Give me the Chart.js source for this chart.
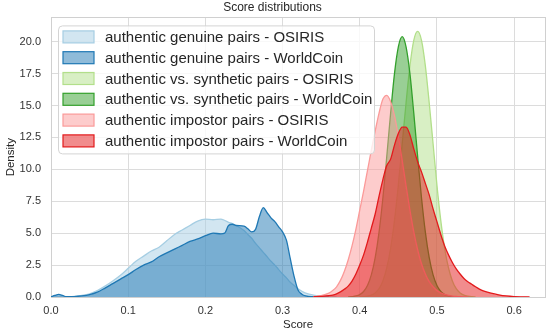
<!DOCTYPE html>
<html>
<head>
<meta charset="utf-8">
<script src="https://cdn.jsdelivr.net/npm/chart.js@4"></script>
<style>
  html, body { margin: 0; padding: 0; background: #fff; }
  #wrap { width: 550px; height: 333px; }
</style>
</head>
<body>
<div id="wrap"><canvas id="myChart" width="550" height="333"></canvas></div>
<script>
// scores for the two genuine curves
const scoresGenuine = [0.0, 0.005, 0.01, 0.015, 0.02, 0.03, 0.04, 0.05, 0.06, 0.07, 0.08, 0.09, 0.10, 0.11, 0.12, 0.13, 0.14, 0.15, 0.16, 0.17, 0.18, 0.19, 0.20, 0.21, 0.22, 0.225, 0.23, 0.235, 0.24, 0.25, 0.255, 0.26, 0.265, 0.27, 0.275, 0.28, 0.285, 0.29, 0.295, 0.30, 0.305, 0.31, 0.315, 0.32, 0.325, 0.33, 0.34, 0.35, 0.36, 0.37];
const genuineOsiris = [0.01, 0.01, 0.01, 0.01, 0.02, 0.05, 0.12, 0.25, 0.5, 0.85, 1.25, 1.7, 2.25, 2.8, 3.2, 3.6, 3.9, 4.4, 4.9, 5.25, 5.6, 5.95, 6.1, 6.05, 6.1, 6.0, 5.85, 5.75, 5.6, 5.2, 4.9, 4.6, 4.2, 3.85, 3.5, 3.15, 2.8, 2.5, 2.15, 1.8, 1.5, 1.15, 0.9, 0.65, 0.45, 0.3, 0.15, 0.08, 0.04, 0.01];
const genuineWorldcoin = [0.02, 0.12, 0.2, 0.12, 0.02, 0.03, 0.08, 0.18, 0.38, 0.7, 1.05, 1.4, 1.75, 2.15, 2.5, 2.75, 3.15, 3.45, 3.75, 4.05, 4.35, 4.55, 4.8, 5.0, 4.95, 5.0, 5.6, 5.7, 5.6, 5.55, 5.35, 5.1, 5.3, 6.3, 7.0, 6.6, 6.2, 5.9, 5.5, 5.1, 4.45, 3.0, 1.6, 0.55, 0.22, 0.08, 0.02, 0.01, 0, 0];

// scores for synthetic and impostor curves
const scoresOther = [0.34, 0.35, 0.36, 0.365, 0.37, 0.375, 0.38, 0.385, 0.39, 0.395, 0.40, 0.405, 0.41, 0.415, 0.42, 0.425, 0.43, 0.435, 0.44, 0.445, 0.45, 0.455, 0.46, 0.465, 0.47, 0.475, 0.48, 0.485, 0.49, 0.495, 0.50, 0.505, 0.51, 0.515, 0.52, 0.525, 0.53, 0.535, 0.54, 0.545, 0.55, 0.555, 0.56, 0.57, 0.58, 0.59, 0.60, 0.61, 0.62];
const synthOsiris = [0, 0, 0, 0, 0, 0, 0, 0, 0, 0, 0, 0.02, 0.06, 0.14, 0.31, 0.65, 1.26, 2.27, 3.81, 5.98, 8.76, 12.0, 15.2, 18.1, 20.1, 20.8, 20.1, 18.1, 15.2, 12.0, 8.76, 5.98, 3.81, 2.27, 1.26, 0.65, 0.31, 0.14, 0.06, 0.02, 0, 0, 0, 0, 0, 0, 0, 0, 0];
const synthWorldcoin = [0, 0, 0, 0, 0, 0, 0, 0, 0.03, 0.08, 0.19, 0.43, 0.9, 1.73, 3.08, 5.08, 7.77, 11.0, 14.4, 17.5, 19.6, 20.4, 19.6, 17.5, 14.4, 11.0, 7.77, 5.08, 3.08, 1.73, 0.9, 0.43, 0.19, 0.08, 0.03, 0, 0, 0, 0, 0, 0, 0, 0, 0, 0, 0, 0, 0, 0];
const impostorOsiris = [0.02, 0.1, 0.3, 0.5, 0.8, 1.3, 2.0, 2.9, 4.0, 5.3, 6.8, 8.3, 9.9, 11.5, 13.0, 14.4, 15.5, 15.8, 15.3, 14.2, 12.6, 10.7, 8.7, 6.8, 5.1, 3.7, 2.6, 1.8, 1.2, 0.8, 0.5, 0.32, 0.2, 0.12, 0.07, 0.04, 0.02, 0.01, 0, 0, 0, 0, 0, 0, 0, 0, 0, 0, 0];
const impostorWorldcoin = [0.02, 0.05, 0.1, 0.15, 0.25, 0.4, 0.6, 0.85, 1.25, 1.8, 2.5, 3.3, 4.3, 5.4, 6.5, 7.9, 9.2, 10.3, 10.8, 11.9, 12.8, 13.3, 13.3, 12.7, 11.6, 10.6, 9.8, 8.9, 8.0, 6.9, 5.9, 4.9, 4.0, 3.3, 2.7, 2.2, 1.8, 1.45, 1.2, 1.0, 0.8, 0.62, 0.48, 0.3, 0.17, 0.08, 0.03, 0.01, 0];

const seriesLabels = [
  "authentic genuine pairs - OSIRIS",
  "authentic genuine pairs - WorldCoin",
  "authentic vs. synthetic pairs - OSIRIS",
  "authentic vs. synthetic pairs - WorldCoin",
  "authentic impostor pairs - OSIRIS",
  "authentic impostor pairs - WorldCoin"
];
const seriesColors = ["#a6cee3", "#1f78b4", "#b2df8a", "#33a02c", "#fb9a99", "#e31a1c"];
const xTicks = [0.0, 0.1, 0.2, 0.3, 0.4, 0.5, 0.6];
const yTicks = [0.0, 2.5, 5.0, 7.5, 10.0, 12.5, 15.0, 17.5, 20.0];

const FONT = "'Liberation Sans', Arial, sans-serif";

function toPoints(xs, ys) {
  // drop long runs of zeros so the outline does not run along the baseline
  const pts = [];
  for (let i = 0; i < xs.length; i++) {
    const near = ys[i] > 0 || (i > 0 && ys[i - 1] > 0) || (i < ys.length - 1 && ys[i + 1] > 0);
    if (near) pts.push({ x: xs[i], y: ys[i] });
  }
  return pts;
}

function alpha(hex, a) {
  const n = parseInt(hex.slice(1), 16);
  return `rgba(${(n >> 16) & 255}, ${(n >> 8) & 255}, ${n & 255}, ${a})`;
}

const seriesData = [
  toPoints(scoresGenuine, genuineOsiris),
  toPoints(scoresGenuine, genuineWorldcoin),
  toPoints(scoresOther, synthOsiris),
  toPoints(scoresOther, synthWorldcoin),
  toPoints(scoresOther, impostorOsiris),
  toPoints(scoresOther, impostorWorldcoin)
];

const datasets = seriesLabels.map((label, i) => ({
  label: label,
  data: seriesData[i],
  borderColor: seriesColors[i],
  backgroundColor: alpha(seriesColors[i], 0.5),
  borderWidth: 1.3,
  fill: "origin",
  pointRadius: 0,
  cubicInterpolationMode: "monotone",
  order: seriesLabels.length - i
}));

// legend drawn inside the plot, upper left
const insideLegend = {
  id: "insideLegend",
  afterDraw(chart) {
    const ctx = chart.ctx;
    const area = chart.chartArea;
    const bx = area.left + 7, by = area.top + 8;
    const bw = 316, bh = 128, r = 4;
    ctx.save();
    ctx.beginPath();
    ctx.roundRect(bx + 0.5, by + 0.5, bw, bh, r);
    ctx.fillStyle = "rgba(255,255,255,0.8)";
    ctx.fill();
    ctx.strokeStyle = "#d4d4d4";
    ctx.lineWidth = 1;
    ctx.stroke();
    ctx.font = "15px " + FONT;
    ctx.textBaseline = "middle";
    seriesLabels.forEach((label, i) => {
      const cy = by + 11.5 + i * 20.8;
      ctx.fillStyle = alpha(seriesColors[i], 0.5);
      ctx.fillRect(bx + 5, cy - 6, 31, 12);
      ctx.strokeStyle = seriesColors[i];
      ctx.lineWidth = 1.2;
      ctx.strokeRect(bx + 5, cy - 6, 31, 12);
      ctx.fillStyle = "#262626";
      ctx.fillText(label, bx + 47, cy + 1);
    });
    ctx.restore();
  }
};

// light frame round the plot, like the seaborn whitegrid spines
const frame = {
  id: "frame",
  beforeDatasetsDraw(chart) {
    const a = chart.chartArea;
    const ctx = chart.ctx;
    ctx.save();
    ctx.strokeStyle = "#d0d0d0";
    ctx.lineWidth = 1;
    ctx.strokeRect(Math.round(a.left) + 0.5, Math.round(a.top) + 0.5, Math.round(a.right - a.left), Math.round(a.bottom - a.top));
    ctx.restore();
  }
};

new Chart(document.getElementById("myChart").getContext("2d"), {
  type: "line",
  data: { datasets: datasets },
  options: {
    responsive: false,
    animation: false,
    devicePixelRatio: 1,
    layout: { padding: { left: 0, right: 5, top: 0, bottom: 0 } },
    plugins: {
      legend: { display: false },
      tooltip: { enabled: false },
      title: {
        display: true,
        text: "Score distributions",
        color: "#262626",
        font: { family: FONT, size: 12, weight: "normal" },
        padding: { top: 0, bottom: 3 }
      }
    },
    scales: {
      x: {
        type: "linear",
        min: 0,
        max: 0.64,
        afterBuildTicks: (scale) => { scale.ticks = xTicks.map((v) => ({ value: v })); },
        afterFit: (scale) => { scale.height = 36; },
        ticks: {
          color: "#333",
          font: { family: FONT, size: 11 },
          padding: 7,
          maxRotation: 0,
          callback: (v) => v.toFixed(1)
        },
        grid: { color: "#dcdcdc", lineWidth: 1, drawTicks: false },
        border: { display: false },
        title: {
          display: true,
          text: "Score",
          color: "#262626",
          font: { family: FONT, size: 11.5 },
          padding: { top: 0, bottom: 1 }
        }
      },
      y: {
        type: "linear",
        min: 0,
        max: 21.9,
        afterBuildTicks: (scale) => { scale.ticks = yTicks.map((v) => ({ value: v })); },
        afterFit: (scale) => { scale.width = 51; },
        ticks: {
          color: "#333",
          font: { family: FONT, size: 11 },
          padding: 10,
          callback: (v) => v.toFixed(1)
        },
        grid: { color: "#dcdcdc", lineWidth: 1, drawTicks: false },
        border: { display: false },
        title: {
          display: true,
          text: "Density",
          color: "#262626",
          font: { family: FONT, size: 11.5 },
          padding: { top: 4, bottom: 0 }
        }
      }
    }
  },
  plugins: [frame, insideLegend]
});
</script>
</body>
</html>
